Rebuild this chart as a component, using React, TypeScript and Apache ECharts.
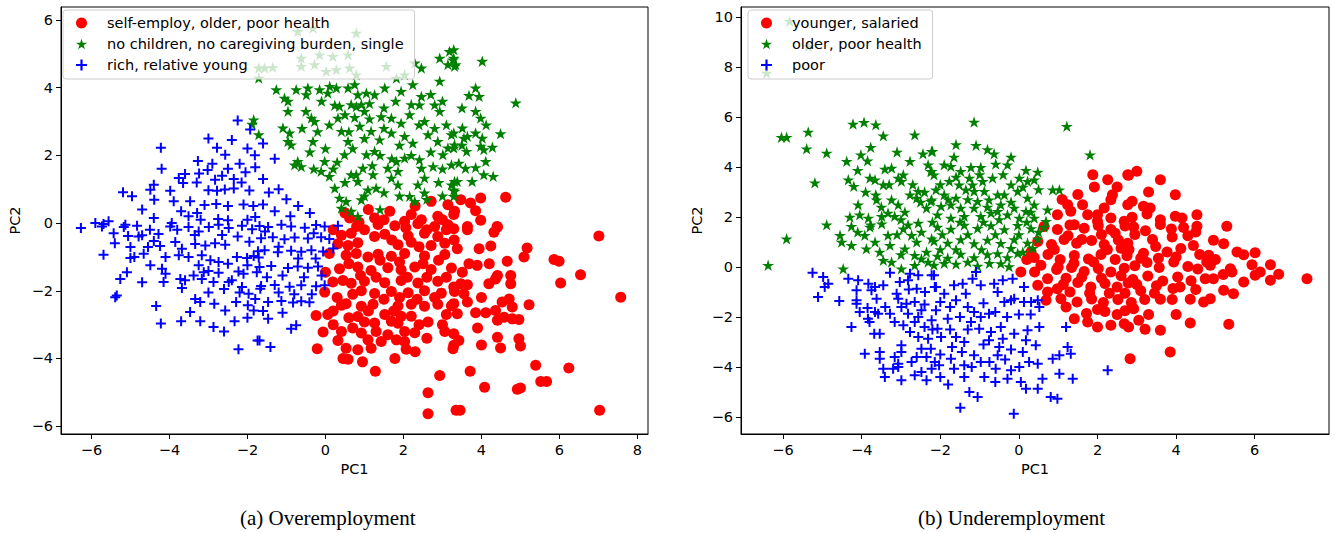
import React, { useEffect, useRef } from "react";
import * as echarts from "echarts";

// ---------- Panel (a) Overemployment ----------
const overNames = [
  "self-employ, older, poor health",
  "no children, no caregiving burden, single",
  "rich, relative young",
];
const overXTicks = [-6, -4, -2, 0, 2, 4, 6, 8];
const overYTicks = [-6, -4, -2, 0, 2, 4, 6];

const overSelfEmploy = [
  [0.62,0.15],[0.86,0.02],[1.26,0.15],[1.65,0.35],[2.03,0.05],[2.2,0.25],[2.46,0.1],[2.71,0.64],[2.88,0.2],[3.14,0.54],[3.31,0.35],
  [3.47,0.69],[3.72,0.59],[3.98,0.74],[3.85,0.36],[4.62,0.76],[3.29,0.25],[3.98,0.08],[4.4,-0.1],[3.64,-0.1],
  [0.8,-0.1],[1.35,-0.04],[1.78,-0.08],[2.06,-0.14],[2.37,-0.02],[2.8,-0.1],[3.14,-0.05],
  [0.41,-0.36],[0.66,-0.3],[1.26,-0.4],[1.52,-0.33],[2.12,-0.38],[2.54,-0.3],[2.88,-0.4],
  [0.32,-0.61],[0.58,-0.66],[0.83,-0.58],[1.86,-0.64],[2.2,-0.57],[2.71,-0.66],[3.06,-0.6],
  [0.53,-0.95],[0.79,-0.9],[1.09,-1.0],[1.35,-0.92],[1.69,-0.98],[2.03,-0.9],[2.54,-0.97],[3.06,-0.93],
  [0.36,-1.35],[0.83,-1.3],[1.17,-1.4],[1.6,-1.32],[1.94,-1.38],[2.29,-1.3],[2.71,-1.37],[3.23,-1.33],
  [0.19,-1.74],[0.45,-1.7],[0.66,-1.78],[1.0,-1.72],[1.52,-1.76],[1.94,-1.7],[2.37,-1.77],[2.88,-1.72],
  [-0.02,-2.04],[0.92,-2.0],[1.26,-2.08],[1.69,-2.02],[2.12,-2.06],[2.54,-2.0],[2.97,-2.07],[3.31,-2.02],
  [0.41,-2.43],[0.53,-2.38],[0.92,-2.46],[1.22,-2.4],[1.86,-2.45],[2.2,-2.4],[2.54,-2.46],[2.88,-2.4],[3.23,-2.44],
  [-0.24,-2.73],[0.06,-2.7],[0.83,-2.76],[1.52,-2.7],[1.94,-2.75],
  [1.0,-2.92],[1.26,-2.95],[1.69,-2.9],[1.86,-2.96],[2.63,-2.92],
  [-0.06,-3.22],[0.41,-3.2],[0.92,-3.25],[2.03,-3.2],[2.29,-3.24],[3.06,-3.2],
  [0.32,-3.47],[1.09,-3.45],[1.43,-3.5],[1.82,-3.45],[2.03,-3.5],
  [-0.21,-3.71],[0.53,-3.7],[0.83,-3.74],[1.17,-3.7],[2.07,-3.73],[3.27,-3.71],
  [0.45,-4.0],[0.58,-4.02],[1.78,-4.0],
  [1.28,-4.38],[2.93,-4.5],[2.63,-5.01],[2.63,-5.63],[3.35,-5.53],
  [3.29,-0.17],[3.64,-0.2],[4.32,-0.27],[4.41,-0.12],[7.01,-0.38],[3.38,-0.76],[3.94,-0.76],[4.24,-0.68],[5.17,-0.74],[5.09,-1.0],
  [5.86,-1.08],[5.99,-1.13],[6.54,-1.53],[6.03,-1.77],[7.57,-2.19],[3.68,-1.2],[3.89,-1.25],[4.66,-1.13],[3.51,-1.45],[4.41,-1.55],
  [4.36,-1.65],[4.75,-1.55],[4.75,-1.79],[4.19,-1.79],[3.47,-1.79],[3.64,-1.82],[3.29,-1.89],[3.55,-2.09],[3.64,-2.33],[3.29,-2.38],
  [4.53,-2.33],[4.71,-2.24],[4.79,-2.48],[5.22,-2.41],[3.38,-2.68],[3.85,-2.65],[4.11,-2.65],[4.36,-2.58],[4.41,-2.87],[4.58,-2.78],
  [4.79,-2.83],[4.96,-2.85],[3.29,-3.27],[3.42,-3.47],[3.29,-3.61],[4.41,-3.37],[4.49,-3.69],[4.96,-3.42],[5.0,-3.63],[5.39,-4.2],
  [6.24,-4.28],[3.71,-4.38],[5.52,-4.68],[5.67,-4.68],[4.08,-4.85],[4.92,-4.91],[5.0,-4.87],[3.45,-5.53],[7.03,-5.53],
  [0.5,0.3],[1.1,0.4],[1.5,0.1],[2.3,0.5],[2.6,-0.2],[3.0,0.1],[0.2,-0.2],[1.0,-0.2],[1.7,-0.5],[2.4,-0.7],[3.3,-0.5],
  [0.1,-0.9],[0.6,-1.2],[1.4,-1.1],[1.9,-1.15],[2.5,-1.2],[2.9,-1.1],[3.1,-1.6],[0.0,-1.45],[0.9,-1.55],[1.3,-1.6],
  [2.1,-1.6],[2.6,-1.6],[0.3,-2.2],[0.7,-2.1],[1.5,-2.25],[1.9,-2.2],[2.35,-2.25],[2.8,-2.2],[0.2,-2.6],[0.6,-2.8],
  [1.1,-2.6],[1.75,-2.6],[2.2,-2.75],[2.4,-3.0],[0.7,-3.1],[1.3,-3.2],[1.6,-3.3],[2.6,-3.4],[2.3,-3.8],[0.95,-4.1],
  [0.2,-3.0],[3.1,-2.7],[3.0,-3.0],[4.0,-2.2],[4.2,-1.2],[3.9,-3.1],[4.0,-3.6],[3.1,-0.2],
];

const overNoChildren = [
  [-0.71,5.66],[-0.32,5.76],[0.79,5.61],[-0.62,4.87],[-0.15,4.97],[0.19,4.92],[0.58,4.97],[-1.56,4.58],[-1.35,4.6],[-0.62,4.63],
  [-0.28,4.68],[0.02,4.48],[0.28,4.53],[0.62,4.58],[0.79,4.38],[1.56,4.63],[1.82,4.28],[2.03,4.38],[2.29,4.73],[-1.71,4.58],[-1.71,4.28],
  [2.46,4.58],[2.93,4.87],[3.18,5.07],[3.27,4.82],[3.14,4.68],[3.31,4.63],[3.29,5.12],[3.29,4.87],[3.34,4.68],[4.02,4.78],[2.93,4.19],
  [-1.26,3.94],[-1.05,3.69],[-0.96,3.6],[-0.75,3.94],[-0.45,3.99],[-0.49,3.79],[-0.15,3.94],[0.06,3.84],[0.11,4.04],[0.28,3.99],
  [0.58,3.99],[0.75,4.09],[0.83,3.79],[1.05,3.84],[1.26,3.79],[1.52,3.99],[1.94,3.89],[2.24,4.09],[2.46,3.74],[2.41,3.49],[2.8,3.49],[2.93,3.3],
  [-0.96,3.3],[-0.36,3.1],[-0.28,3.0],[0.24,3.48],[0.36,3.45],[0.66,3.5],[0.79,3.44],[0.92,3.5],[1.13,3.53],
  [0.32,3.1],[0.75,3.12],[1.13,3.08],[1.43,3.14],[1.69,3.1],[1.94,2.95],[2.16,3.2],[2.54,3.0],[3.1,2.9],[3.23,2.61],
  [-1.09,2.81],[-0.92,2.66],[-0.96,2.41],[-0.88,2.31],[-0.32,2.41],[0.41,2.71],[0.58,2.41],[0.88,2.86],[1.17,2.71],[1.39,2.46],
  [1.69,2.66],[2.03,2.56],[2.24,2.36],[2.63,2.61],[2.88,2.41],[3.14,2.22],[3.31,2.31],
  [-0.71,1.82],[-0.79,1.72],[-0.62,1.67],[-0.02,1.82],[-0.11,1.53],[0.1,1.38],[0.49,2.02],[1.05,2.02],[1.26,2.12],[0.79,1.43],[0.66,1.43],
  [0.96,1.62],[1.22,1.43],[1.6,1.62],[1.86,1.53],[1.82,1.82],[2.03,1.92],[2.41,1.87],[2.46,1.62],[2.54,1.33],[2.76,1.67],
  [3.01,2.02],[3.23,1.72],[3.31,1.23],[0.24,1.03],[0.36,0.74],[0.53,0.64],[0.41,0.44],[0.83,1.23],[1.09,0.98],[1.3,1.03],[0.92,0.69],
  [1.69,1.33],[1.86,1.13],[2.16,0.79],[2.37,1.13],[2.54,0.89],[2.29,0.64],[0.66,0.35],[0.83,0.2],[3.23,1.13],[3.31,0.94],
  [3.85,3.99],[3.68,3.77],[3.94,3.74],[4.88,3.55],[3.85,3.3],[3.98,3.1],[4.12,2.9],[4.49,2.64],[3.51,2.81],[3.55,2.51],[3.64,2.56],
  [3.85,2.66],[4.02,2.51],[3.29,2.66],[3.29,2.22],[3.98,2.27],[4.06,2.17],[4.28,2.24],[3.62,2.12],[4.11,1.82],[3.42,1.77],[3.59,1.62],
  [3.85,1.64],[4.06,1.43],[4.3,1.38],[3.76,1.23],[3.38,1.23],[3.29,0.98],[3.29,0.79],[-1.84,3.05],[-1.88,2.92],[-1.71,2.61],
  [-0.5,3.3],[-0.1,3.6],[0.5,3.2],[1.0,3.3],[1.5,3.4],[1.8,3.6],[2.2,3.5],[2.7,3.8],[3.0,3.6],[3.5,3.4],
  [-0.6,2.8],[-0.2,2.7],[0.1,2.9],[0.6,2.7],[1.0,2.5],[1.5,2.8],[1.9,2.3],[2.4,2.9],[2.8,2.8],[3.5,2.3],
  [-0.4,2.1],[0.0,2.2],[0.3,1.8],[0.7,2.2],[1.4,2.0],[1.7,1.9],[2.2,2.0],[2.7,2.1],[3.0,1.6],[2.9,1.2],
  [0.5,1.2],[1.0,0.8],[1.5,0.9],[1.9,0.8],[2.6,0.7],[3.0,0.8],[1.4,0.4],[0.2,1.6],[-0.3,1.6],[1.2,1.7],
];

const overRich = [
  [-2.25,3.03],[-1.93,2.76],[-4.22,2.22],[-2.78,2.22],[-2.0,2.2],[-1.81,2.0],[-3.27,1.83],[-2.57,2.02],[-3.24,1.46],[-3.02,1.57],
  [-2.83,1.28],[-2.5,1.6],[-2.2,1.75],[-2.05,1.5],[-1.8,1.65],[-3.76,1.33],[-3.65,1.18],[-4.4,1.13],[-4.49,0.98],[-5.19,0.91],
  [-4.96,0.79],[-3.98,0.95],[-3.89,0.64],[-4.39,0.69],[-3.47,0.64],[-3.0,0.97],[-2.78,0.95],[-2.58,0.99],[-2.35,1.02],[-1.95,0.96],
  [-3.1,0.53],[-2.8,0.56],[-2.5,0.5],[-2.1,0.55],[-1.85,0.5],[-3.29,0.3],[-6.27,-0.15],[-5.69,-0.03],[-5.56,0.05],[-5.13,-0.05],
  [-4.4,0.15],[-3.94,0.0],[-3.51,0.2],[-3.2,0.1],[-2.75,0.12],[-2.5,0.08],[-2.0,0.1],[-1.8,0.18],
  [-5.73,-0.1],[-5.17,-0.12],[-4.83,-0.08],[-5.43,-0.3],[-5.06,-0.38],[-4.79,-0.4],[-4.7,-0.36],[-4.28,-0.32],
  [-3.98,-0.1],[-3.8,-0.2],[-3.51,-0.12],[-3.25,-0.25],[-2.99,-0.12],[-2.74,-0.05],[-2.48,-0.15],[-2.14,-0.08],[-1.88,-0.18],
  [-5.0,-0.71],[-5.69,-0.94],[-5.0,-1.03],[-4.66,-0.91],[-4.55,-0.71],[-4.24,-0.68],[-4.4,-0.53],[-3.85,-0.56],[-3.68,-0.76],[-3.76,-0.95],
  [-3.34,-0.62],[-3.08,-0.66],[-2.83,-0.6],[-2.57,-0.64],[-2.27,-1.0],[-2.01,-1.03],[-1.84,-0.97],[-1.71,-1.02],
  [-3.51,-1.0],[-3.17,-0.95],[-2.95,-1.1],[-2.74,-1.15],[-3.38,-1.55],[-4.49,-1.25],[-4.19,-1.35],[-4.1,-1.5],[-5.09,-1.45],[-5.26,-1.65],
  [-4.15,-1.74],[-3.72,-1.65],[-3.6,-1.69],[-3.17,-1.65],[-2.87,-1.74],[-2.48,-1.74],[-2.4,-1.69],
  [-3.12,-1.45],[-3.0,-1.42],[-2.74,-1.47],[-2.23,-1.43],[-2.1,-1.5],[-1.76,-1.45],[-3.68,-1.92],[-2.14,-1.89],[-1.97,-2.09],[-1.67,-1.94],
  [-1.8,-2.24],[-5.39,-2.19],[-5.35,-2.14],[-4.34,-2.45],[-3.34,-2.24],[-3.21,-2.33],[-2.85,-2.38],[-3.47,-2.63],[-2.57,-2.58],[-2.29,-2.33],
  [-1.99,-2.43],[-1.84,-2.58],[-4.22,-2.97],[-3.21,-2.9],[-2.87,-3.07],[-2.33,-2.9],[-1.74,-3.47],[-2.23,-3.73],
  [-1.69,-0.09],[-1.47,-0.12],[-1.13,-0.05],[-0.88,-0.1],[-0.53,-0.14],[-0.24,-0.06],[-0.02,-0.1],[0.32,-0.08],
  [-1.65,-0.45],[-1.35,-0.42],[-1.05,-0.48],[-0.79,-0.43],[-0.45,-0.46],[-0.11,-0.42],[0.1,-0.47],
  [-1.73,-0.83],[-1.56,-0.8],[-1.22,-0.86],[-0.88,-0.82],[-0.62,-0.85],[-0.36,-0.8],[-0.06,-0.84],
  [-1.69,-1.3],[-1.39,-1.27],[-0.96,-1.33],[-0.71,-1.28],[-0.45,-1.32],[-0.19,-1.28],
  [-1.65,-1.86],[-1.3,-1.83],[-0.92,-1.88],[-0.62,-1.84],[-0.24,-1.87],[-0.02,-1.84],
  [-1.47,-2.33],[-1.13,-2.3],[-0.83,-2.35],[-0.62,-2.31],[-0.41,-2.34],
  [-1.47,-2.83],[-0.88,-3.12],[-0.75,-3.02],[-1.69,-3.47],[-1.41,-3.66],
  [-3.6,1.45],[-3.3,1.2],[-2.9,1.75],[-2.65,1.4],[-2.35,1.3],[-2.15,1.2],[-1.6,1.3],[-1.45,0.9],[-1.2,1.0],[-1.0,0.7],
  [-0.7,0.5],[-0.4,0.3],[-1.3,0.35],[-0.9,0.2],[-1.6,0.55],[-3.7,0.35],[-3.35,-0.35],[-2.65,-0.35],[-2.25,-0.4],[-1.95,-0.55],
  [-1.55,-0.25],[-1.2,-0.7],[-0.7,-1.05],[-0.25,-1.05],[0.2,-0.75],[-0.3,-0.3],[-4.5,-0.2],[-4.1,-1.0],[-3.25,-1.25],[-2.5,-1.2],
  [-2.0,-1.25],[-1.5,-1.6],[-1.1,-1.55],[-0.55,-1.6],[-0.1,-1.55],[-0.35,-2.1],[-2.2,-2.05],[-2.6,-1.95],[-3.0,-2.05],[-1.2,-2.05],
  [-0.8,-2.1],[-1.6,-2.6],[-1.1,-2.65],[-2.0,-2.8],[-2.6,-3.2],[-3.7,-2.9],[-4.7,-1.75],[-4.9,-1.0],[-5.4,-0.6],[-4.7,0.4],
  [-4.2,1.6],[-3.0,2.5],[-2.4,2.45],[-1.6,2.35],[-1.3,1.9],[-5.9,0.0],
];

// ---------- Panel (b) Underemployment ----------
const underNames = ["younger, salaried", "older, poor health", "poor"];
const underXTicks = [-6, -4, -2, 0, 2, 4, 6];
const underYTicks = [-6, -4, -2, 0, 2, 4, 6, 8, 10];

const underYounger = [
  [1.88,3.69],[1.92,3.2],[2.26,3.49],[2.77,3.69],[2.38,2.89],[2.34,2.69],[2.77,2.49],[2.17,2.36],[2.0,2.09],[1.62,2.49],
  [1.24,2.49],[0.98,2.09],[1.32,2.23],[1.75,2.09],[2.34,1.96],[2.68,1.83],[2.0,1.83],[1.41,1.69],
  [3.0,3.83],[2.79,3.67],[3.6,3.49],[3.98,2.89],[2.88,2.63],[3.17,2.43],[3.34,2.36],[3.26,2.12],[2.88,1.99],
  [3.6,1.89],[3.98,2.03],[4.15,1.96],[4.53,2.09],[4.53,1.63],[5.29,1.63],
  [4.95,1.07],[5.21,0.93],[4.83,0.47],[4.78,0.2],[4.87,0.07],[5.55,0.6],[5.72,0.49],[6.01,0.57],[5.93,0.09],[6.4,0.09],
  [6.61,-0.29],[6.14,-0.2],[6.01,-0.33],[6.4,-0.53],[7.33,-0.47],[5.72,-0.6],[5.46,-1.07],[5.21,-0.93],[5.38,-0.07],[5.42,-0.2],
  [4.95,-0.47],[4.74,-0.47],[4.87,-1.27],[4.7,-1.4],[4.36,-1.29],[3.6,-1.29],[4.36,-2.24],[5.34,-2.29],[3.85,-3.4],[3.6,-2.53],
  [3.21,-2.49],[2.83,-3.67],[2.92,-1.67],[3.05,-2.13],[2.79,-2.4],
  [2.92,1.6],[3.22,1.45],[3.6,1.7],[3.88,1.52],[4.19,1.58],[4.5,1.4],
  [2.8,0.7],[3.17,0.55],[3.48,0.82],[3.77,0.6],[4.12,0.74],[4.44,0.86],
  [2.95,0.05],[3.26,0.18],[3.57,-0.02],[3.94,0.2],[4.3,0.02],[4.55,-0.08],
  [2.9,-0.5],[3.28,-0.36],[3.66,-0.56],[4.04,-0.4],[4.38,-0.55],
  [3.1,-0.95],[3.45,-1.05],[3.92,-0.86],
  [0.05,-0.2],[0.31,0.6],[0.56,0.07],[0.73,-0.47],[0.48,-0.73],[0.73,-1.0],[0.69,-1.33],[1.07,-1.27],[0.98,-0.87],
  [1.41,-2.07],[1.75,-2.2],[2.0,-2.4],[2.34,-2.33],[2.68,-2.27],
  [0.64,1.62],[0.98,1.5],[1.3,1.68],[1.66,1.55],[2.02,1.66],[2.34,1.5],[2.7,1.64],
  [0.48,1.02],[0.83,0.9],[1.15,1.1],[1.47,0.95],[1.85,1.06],[2.17,0.9],[2.53,1.08],[2.77,0.95],
  [0.39,0.38],[0.74,0.5],[1.05,0.3],[1.41,0.46],[1.77,0.32],[2.09,0.5],[2.45,0.3],[2.75,0.45],
  [0.96,-0.1],[1.34,-0.02],[1.66,-0.18],[2.02,-0.06],[2.34,-0.2],[2.68,-0.05],
  [1.13,-0.7],[1.5,-0.62],[1.83,-0.8],[2.19,-0.66],[2.5,-0.8],[2.78,-0.64],
  [1.48,-1.4],[1.85,-1.28],[2.15,-1.42],[2.52,-1.3],[2.86,-1.42],
  [1.72,-1.86],[2.19,-1.78],[2.5,-1.9],
  [0.2,0.3],[0.4,-0.2],[0.9,0.7],[1.25,1.25],[1.6,1.1],[2.1,1.3],[2.45,1.35],[2.95,1.3],[3.4,1.1],[3.9,1.2],
  [4.3,1.25],[1.0,0.0],[1.4,0.15],[1.9,0.2],[2.25,0.7],[2.6,0.75],[3.1,0.35],[3.55,0.35],[4.0,0.4],[4.6,0.5],
  [5.0,0.3],[5.2,-0.3],[1.2,-0.45],[1.6,-0.4],[2.1,-0.45],[2.6,-0.35],[3.0,-0.7],[3.5,-0.75],[4.1,-0.8],[4.5,-0.9],
  [1.3,-1.0],[1.8,-1.05],[2.3,-1.05],[2.7,-1.05],[3.2,-1.3],[3.9,-1.3],[1.2,-1.6],[2.0,-1.7],[2.7,-1.75],[3.3,-1.9],
  [4.0,-1.9],[1.5,2.9],[2.5,3.2],[3.3,3.0],[1.1,2.7],
];

const underOlder = [
  [-5.83,9.83],[-5.36,8.83],[-6.42,7.76],
  [-6.04,5.19],[-5.91,5.19],[-5.36,5.4],[-5.4,4.73],[-4.89,4.56],[-5.19,3.37],[-4.22,5.72],[-3.94,5.79],[-3.64,5.69],[-3.45,5.25],
  [-2.65,5.29],[-3.77,4.79],[-4.02,4.49],[-3.85,4.25],[-4.38,4.23],[-4.1,3.87],[-4.34,3.49],[-4.2,3.23],
  [-3.79,3.56],[-3.66,3.49],[-3.45,3.29],[-3.41,3.92],[-3.24,3.96],[-3.07,3.56],[-2.94,3.69],[-2.99,3.43],
  [-2.77,4.23],[-2.44,4.53],[-2.22,4.63],[-2.31,4.09],[-2.22,3.83],
  [-3.64,2.89],[-3.62,2.69],[-3.24,2.69],[-3.07,2.49],[-2.77,2.89],[-2.56,3.03],[-2.6,2.76],[-2.35,2.36],[-2.22,2.69],
  [-4.09,2.49],[-4.05,2.09],[-3.83,1.96],[-3.49,2.03],[-3.33,2.16],[-3.16,2.03],
  [-4.89,1.69],[-4.26,1.63],[-3.77,1.69],[-2.82,1.69],[-2.56,1.76],[-3.79,1.6],[-3.49,1.73],
  [-5.91,1.13],[-6.38,0.07],[-4.47,-0.07],
  [-4.55,1.27],[-4.51,1.0],[-4.26,0.87],[-3.92,1.27],[-3.88,0.73],[-3.66,1.0],[-3.54,0.6],[-3.33,1.27],[-3.28,0.87],[-3.45,0.27],[-3.24,0.2],
  [-2.94,1.53],[-2.73,1.27],[-2.48,1.4],[-2.22,1.13],[-2.9,0.73],[-2.65,0.47],[-2.35,0.6],[-2.99,-0.07],[-2.65,0.07],[-2.31,0.2],[-2.48,0.33],
  [-1.14,5.8],[-1.09,4.87],[1.22,5.63],[1.81,4.49],[-2.2,4.63],
  [-1.65,4.4],[-1.9,4.09],[-1.73,4.03],[-1.48,3.83],[-1.22,3.99],[-0.97,3.99],[-0.63,4.53],[-0.59,4.12],[-0.29,4.09],[-0.2,4.4],[0.18,3.87],[0.48,3.8],
  [-2.24,3.83],[-2.16,3.69],
  [-1.77,3.43],[-1.52,3.29],[-1.26,3.56],[-1.18,3.29],[-0.92,3.43],[-0.67,3.56],[-0.54,2.89],[-0.2,3.29],[0.01,3.56],[0.22,3.43],[0.39,3.49],
  [0.86,3.09],[1.03,3.09],
  [-2.11,3.09],[-1.9,2.89],[-1.6,2.76],[-1.35,3.09],[-1.14,3.03],[-0.88,3.03],[-0.76,2.69],[-0.37,2.89],[-0.03,3.03],[0.22,2.76],
  [0.39,2.49],[0.18,2.23],[-0.12,2.36],[-0.46,2.49],[-0.54,2.23],[-1.14,2.36],[-1.05,2.63],[-1.48,2.36],[-1.73,2.49],[-1.98,2.43],
  [-2.24,2.63],[-2.07,2.09],[-1.73,1.96],[-1.39,2.03],[-0.97,2.03],[-0.71,2.16],[-0.29,2.09],[0.01,1.96],[0.39,1.96],[0.73,2.29],[0.69,1.83],
  [-2.07,1.6],[-1.73,1.52],[-1.39,1.68],[-1.05,1.55],[-0.71,1.66],[-0.37,1.5],[-0.03,1.67],[0.31,1.54],[0.64,1.6],
  [-2.16,1.04],[-1.81,0.96],[-1.48,1.1],[-1.14,0.94],[-0.8,1.08],[-0.46,0.95],[-0.12,1.1],[0.22,0.96],[0.48,1.12],
  [-2.07,0.44],[-1.81,0.36],[-1.48,0.52],[-1.14,0.38],[-0.8,0.5],[-0.54,0.54],[-0.29,0.38],[-0.03,0.55],
  [-2.16,0.08],[-1.6,0.12],[-1.05,0.04],[-0.46,0.14],[-0.25,0.02],
  [-3.9,3.0],[-3.3,3.3],[-2.7,3.3],[-2.4,3.0],[-2.0,3.3],[-1.6,3.6],[-1.0,3.7],[-0.4,3.7],[0.1,3.2],[0.5,3.1],
  [-3.5,2.4],[-2.9,2.2],[-2.5,2.6],[-1.8,2.7],[-1.3,2.7],[-0.8,2.4],[-0.2,2.6],[0.3,2.2],
  [-4.3,2.0],[-3.0,1.9],[-2.2,1.8],[-1.5,1.8],[-0.9,1.8],[-0.5,1.9],[0.2,1.8],[0.5,1.4],
  [-4.1,1.4],[-3.1,1.3],[-2.6,1.0],[-1.95,1.3],[-1.3,1.3],[-0.6,1.3],[0.0,1.3],[0.35,0.75],
  [-3.0,0.5],[-2.0,0.7],[-1.6,0.7],[-0.95,0.7],[-0.2,0.75],[0.1,0.6],[-1.3,0.2],[-0.75,0.15],[-1.9,0.15],
  [-3.1,4.6],[-1.6,4.9],[-0.8,4.7],
];

const underPoor = [
  [-5.25,-0.23],[-4.98,-0.4],[-4.85,-0.67],[-4.94,-0.8],[-5.11,-1.2],[-4.57,-1.36],[-4.26,-2.4],
  [-4.34,-0.47],[-4.09,-0.53],[-4.13,-0.93],[-3.83,-0.67],[-3.75,-0.93],[-3.66,-0.8],[-3.45,-0.73],[-3.28,-0.23],
  [-4.13,-1.33],[-4.13,-1.47],[-3.62,-1.27],[-3.85,-1.64],[-4.05,-1.8],[-3.66,-1.8],[-3.58,-1.87],[-3.84,-2.07],[-3.8,-2.2],
  [-3.68,-2.67],[-3.54,-2.67],[-3.92,-3.47],[-3.54,-3.4],[-3.54,-3.67],
  [-3.45,-4.07],[-3.41,-4.4],[-3.2,-4.07],[-3.07,-3.87],[-2.99,-4.53],
  [-3.28,-1.87],[-3.16,-2.2],[-3.07,-1.27],[-2.99,-1.6],[-3.11,-1.07],[-3.03,-0.6],[-2.82,-0.53],[-2.77,-0.27],[-2.56,-0.33],
  [-2.6,-0.87],[-2.39,-1.0],[-2.22,-0.33],[-2.14,-0.8],
  [-2.86,-1.47],[-2.65,-1.4],[-2.48,-1.73],[-2.82,-1.87],[-2.56,-2.0],[-2.65,-2.2],[-2.22,-2.13],[-2.94,-2.33],[-2.77,-2.6],
  [-2.56,-2.8],[-2.31,-2.87],[-2.99,-3.13],[-2.99,-3.4],[-2.73,-3.8],[-2.48,-3.27],[-2.35,-3.6],[-2.14,-3.8],[-2.65,-4.33],
  [-2.48,-4.2],[-2.35,-4.53],[-2.22,-4.07],[-3.16,-3.6],[-3.07,-4.0],
  [-2.16,-0.33],[-2.11,-0.8],[-1.9,-1.07],[-1.6,-1.33],[-1.65,-0.73],[-1.43,-0.67],[-1.35,-1.07],[-1.18,-0.47],[-1.09,-0.2],
  [-0.97,-0.73],[-0.63,-0.67],[-0.41,-0.53],[-0.16,-0.47],[-0.54,-1.0],[-0.37,-1.4],[-0.2,-1.33],[-0.12,-1.27],[0.13,-0.8],
  [0.13,-1.4],[0.48,-1.33],[0.52,-1.6],[0.31,-1.4],[1.2,-2.4],[2.26,-4.13],
  [-2.11,-1.73],[-1.81,-2.07],[-2.07,-2.47],[-1.98,-2.8],[-1.6,-2.8],[-1.39,-3.0],[-1.22,-2.2],[-1.14,-1.8],[-0.97,-2.0],
  [-0.76,-1.87],[-1.01,-2.47],[-0.71,-2.6],[-0.46,-2.4],[-0.76,-2.93],[-0.41,-2.87],[-0.12,-2.67],[0.22,-2.53],[0.18,-2.93],
  [0.52,-2.4],[0.43,-3.13],
  [-2.24,-3.27],[-2.03,-3.93],[-1.73,-3.67],[-1.65,-4.07],[-1.39,-3.93],[-1.39,-4.4],[-1.14,-3.53],[-0.97,-3.8],[-0.88,-4.4],
  [-0.54,-3.53],[-0.59,-4.07],[-0.29,-4.47],[-0.2,-4.13],[0.01,-4.0],[0.26,-3.8],[0.48,-3.87],[0.05,-4.6],[0.18,-4.87],
  [0.48,-4.87],[0.6,-4.47],[0.86,-3.67],[1.03,-3.53],[1.24,-3.2],[1.32,-3.47],[1.03,-4.27],[1.37,-4.47],[0.81,-5.2],
  [0.98,-5.27],[-1.26,-5.0],[-1.05,-5.2],[-1.49,-5.63],[-0.13,-5.87],
  [-2.4,-1.5],[-2.0,-1.4],[-1.75,-1.6],[-1.5,-2.0],[-1.3,-1.6],[-0.9,-1.45],[-0.6,-1.8],[-0.3,-2.0],[0.0,-1.9],[0.3,-1.9],
  [-2.4,-2.4],[-1.75,-2.5],[-1.3,-2.5],[-0.9,-3.1],[-0.5,-3.2],[-0.2,-3.3],[0.1,-3.4],[-1.7,-3.2],[-1.45,-3.4],[-2.0,-3.5],
  [-2.6,-3.6],[-1.2,-4.0],[-0.75,-3.8],[-0.35,-3.7],[-2.0,-4.4],[-1.8,-4.7],[-0.6,-4.6],[-2.8,-0.9],[-3.4,-1.6],[-2.2,-2.5],
];

const STAR =
  "path://M0,-1L0.2245,-0.309L0.9511,-0.309L0.3633,0.118L0.5878,0.809L0,0.382L-0.5878,0.809L-0.3633,0.118L-0.9511,-0.309L-0.2245,-0.309Z";
const PLUS = "path://M-1,-0.2H-0.2V-1H0.2V-0.2H1V0.2H0.2V1H-0.2V0.2H-1Z";

const RED = "#ff0000";
const GREEN = "#008000";
const BLUE = "#0000ff";
const FONT = "DejaVu Sans";
const FS = 14.5;

const fmt = (v: number) => String(v).replace("-", "\u2212");

function makeAxis(idx: number, min: number, max: number, ticks: number[], name: string, nameGap: number) {
  return {
    type: "value",
    gridIndex: idx,
    min,
    max,
    name,
    nameLocation: "middle",
    nameGap,
    nameTextStyle: { fontFamily: FONT, fontSize: FS, color: "#000" },
    axisLine: { show: true, onZero: false, lineStyle: { color: "#000", width: 1 } },
    axisTick: { show: true, length: 5, inside: false, customValues: ticks, lineStyle: { color: "#000", width: 1 } },
    axisLabel: {
      show: true,
      customValues: ticks,
      margin: 8,
      fontFamily: FONT,
      fontSize: FS,
      color: "#000",
      formatter: fmt,
    },
    splitLine: { show: false },
  };
}

function makeLegend(left: number, names: string[]) {
  return {
    orient: "vertical",
    left,
    top: 10,
    data: [
      { name: names[0], icon: "circle" },
      { name: names[1], icon: STAR },
      { name: names[2], icon: PLUS },
    ],
    itemWidth: 11,
    itemHeight: 11,
    itemGap: 5,
    padding: [5, 11, 6, 13],
    backgroundColor: "rgba(255,255,255,0.8)",
    borderColor: "#cccccc",
    borderWidth: 1,
    borderRadius: 3,
    selectedMode: false,
    z: 10,
    formatter: "{t|{name}}",
    textStyle: {
      fontFamily: FONT,
      fontSize: FS,
      color: "#000",
      lineHeight: 16,
      rich: { t: { fontFamily: FONT, fontSize: FS, color: "#000", lineHeight: 16, padding: [0, 0, 0, 15] } },
    },
  };
}

function scatter(name: string, data: number[][], idx: number, symbol: string, size: number, color: string) {
  return {
    type: "scatter",
    name,
    xAxisIndex: idx,
    yAxisIndex: idx,
    data,
    symbol,
    symbolSize: size,
    symbolKeepAspect: true,
    itemStyle: { color, opacity: 1 },
    emphasis: { disabled: true },
  };
}

export default function App() {
  const ref = useRef<HTMLDivElement>(null);
  useEffect(() => {
    if (!ref.current) return;
    const chart = echarts.init(ref.current, null, { renderer: "svg" });
    chart.setOption({
      animation: false,
      backgroundColor: "#ffffff",
      grid: [
        { left: 61, top: 7, width: 587, height: 427, show: true, borderColor: "#000", borderWidth: 1, backgroundColor: "transparent" },
        { left: 741, top: 7, width: 588, height: 427, show: true, borderColor: "#000", borderWidth: 1, backgroundColor: "transparent" },
      ],
      xAxis: [
        makeAxis(0, -6.78, 8.27, overXTicks, "PC1", 27),
        makeAxis(1, -7.07, 7.89, underXTicks, "PC1", 27),
      ],
      yAxis: [
        makeAxis(0, -6.23, 6.38, overYTicks, "PC2", 39),
        makeAxis(1, -6.68, 10.4, underYTicks, "PC2", 37),
      ],
      legend: [makeLegend(63, overNames), makeLegend(748, underNames)],
      series: [
        scatter(overNames[0], overSelfEmploy, 0, "circle", 11, RED),
        scatter(overNames[1], overNoChildren, 0, STAR, 12, GREEN),
        scatter(overNames[2], overRich, 0, PLUS, 10, BLUE),
        scatter(underNames[0], underYounger, 1, "circle", 11, RED),
        scatter(underNames[1], underOlder, 1, STAR, 12, GREEN),
        scatter(underNames[2], underPoor, 1, PLUS, 10, BLUE),
      ],
      graphic: [
        {
          type: "text",
          left: 240,
          top: 507,
          style: { text: "(a) Overemployment", font: '21px "Liberation Serif"', fill: "#000" },
        },
        {
          type: "text",
          left: 918,
          top: 507,
          style: { text: "(b) Underemployment", font: '21px "Liberation Serif"', fill: "#000" },
        },
      ],
    });
    return () => chart.dispose();
  }, []);
  return <div ref={ref} style={{ width: 1335, height: 533, position: "absolute", left: 0, top: 0 }} />;
}
